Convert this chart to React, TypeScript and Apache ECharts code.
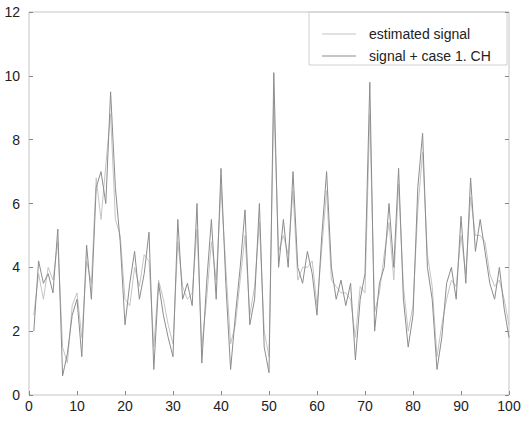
import React, { useEffect, useRef } from "react";
import * as echarts from "echarts";

const xValues: number[] = Array.from({ length: 100 }, (_, i) => i + 1);

const estimatedSignal: number[] = [
  2.5, 3.8, 3.0, 4.0, 3.6, 4.8, 1.5, 1.0, 2.8, 3.2,
  1.8, 4.2, 3.5, 6.8, 5.5, 7.2, 8.8, 5.5, 5.0, 3.0,
  2.8, 4.0, 3.4, 4.4, 4.2, 1.5, 3.6, 3.0, 2.2, 1.6,
  4.8, 3.4, 3.0, 3.2, 5.2, 1.5, 3.0, 4.8, 3.6, 6.5,
  4.0, 1.6, 2.2, 3.6, 5.0, 2.5, 3.4, 5.4, 2.0, 1.2,
  9.2, 4.5, 5.0, 4.4, 6.4, 3.6, 4.0, 4.0, 4.2, 2.8,
  4.6, 6.4, 3.6, 3.4, 3.2, 3.2, 3.0, 1.8, 3.4, 3.2,
  8.8, 2.6, 3.2, 4.4, 5.4, 3.6, 6.6, 3.4, 2.0, 2.8,
  5.8, 7.6, 4.4, 3.4, 1.2, 2.2, 3.0, 3.6, 3.4, 5.0,
  3.8, 6.2, 5.0, 5.0, 4.8, 3.8, 3.4, 3.6, 3.0, 2.2,
];

const signalPlusCH: number[] = [
  2.0, 4.2, 3.5, 3.8, 3.2, 5.2, 0.6, 1.3, 2.5, 3.0,
  1.2, 4.7, 3.0, 6.5, 7.0, 6.0, 9.5, 6.5, 4.8, 2.2,
  3.5, 4.5, 3.0, 3.8, 5.1, 0.8, 3.5, 2.5, 1.8, 1.2,
  5.5, 3.0, 3.5, 2.8, 6.0, 1.0, 3.5, 5.5, 3.0, 7.1,
  3.5, 0.8, 2.5, 4.0, 5.8, 2.2, 3.0, 6.0, 1.5, 0.7,
  10.1, 4.0, 5.5, 4.0, 7.0, 4.0, 3.5, 4.5, 3.8, 2.5,
  5.0, 7.0, 4.0, 3.0, 3.6, 2.8, 3.5, 1.1, 3.0, 3.8,
  9.8, 2.0, 3.5, 4.0, 6.0, 4.0, 7.1, 3.0, 1.5, 2.5,
  6.5, 8.2, 4.0, 3.0, 0.8, 1.8, 3.5, 4.0, 3.0, 5.6,
  3.5, 6.8, 4.5, 5.5, 4.5, 3.5, 3.0, 4.0, 2.7, 1.8,
];

const seriesNames: string[] = ["estimated signal", "signal + case 1. CH"];

const FONT = "'Liberation Sans', Arial, sans-serif";

export default function App() {
  const ref = useRef<HTMLDivElement>(null);

  useEffect(() => {
    if (!ref.current) return;
    const chart = echarts.init(ref.current, undefined, { renderer: "svg" });
    const axisLabel = { color: "#222", fontSize: 14, fontFamily: FONT };
    chart.setOption({
      animation: false,
      backgroundColor: "#fff",
      grid: {
        left: 29,
        right: 15,
        top: 12,
        bottom: 26,
        show: true,
        borderColor: "#c4c4c4",
        borderWidth: 1,
      },
      xAxis: {
        type: "value",
        min: 0,
        max: 100,
        interval: 10,
        axisLine: { show: false },
        axisTick: { show: true, inside: true, length: 4, lineStyle: { color: "#888" } },
        axisLabel: { ...axisLabel, margin: 4 },
        splitLine: { show: false },
      },
      yAxis: [
        {
          type: "value",
          min: 0,
          max: 12,
          interval: 2,
          axisLine: { show: false },
          axisTick: { show: true, inside: true, length: 4, lineStyle: { color: "#888" } },
          axisLabel: { ...axisLabel, margin: 9 },
          splitLine: { show: false },
        },
        {
          type: "value",
          position: "right",
          min: 0,
          max: 12,
          interval: 2,
          axisLine: { show: false },
          axisTick: { show: true, inside: true, length: 4, lineStyle: { color: "#888" } },
          axisLabel: { show: false },
          splitLine: { show: false },
        },
      ],
      legend: {
        orient: "vertical",
        left: 317,
        top: 22,
        itemWidth: 34,
        itemHeight: 1,
        itemGap: 8,
        icon: "rect",
        textStyle: { color: "#222", fontSize: 14, fontFamily: FONT, padding: [0, 0, 0, 8] },
        data: seriesNames,
      },
      graphic: [
        {
          type: "rect",
          shape: { x: 309, y: 12, width: 198, height: 53 },
          style: { fill: "none", stroke: "#d0d0d0", lineWidth: 1 },
          silent: true,
        },
      ],
      series: [
        {
          name: seriesNames[0],
          type: "line",
          showSymbol: false,
          symbol: "none",
          data: xValues.map((x, i) => [x, estimatedSignal[i]]),
          lineStyle: { color: "#c4c4c4", width: 1 },
          itemStyle: { color: "#c4c4c4" },
        },
        {
          name: seriesNames[1],
          type: "line",
          showSymbol: false,
          symbol: "none",
          data: xValues.map((x, i) => [x, signalPlusCH[i]]),
          lineStyle: { color: "#8c8c8c", width: 1 },
          itemStyle: { color: "#8c8c8c" },
        },
      ],
    });
    return () => chart.dispose();
  }, []);

  return <div ref={ref} style={{ width: 524, height: 421, position: "absolute", left: 0, top: 0 }} />;
}
